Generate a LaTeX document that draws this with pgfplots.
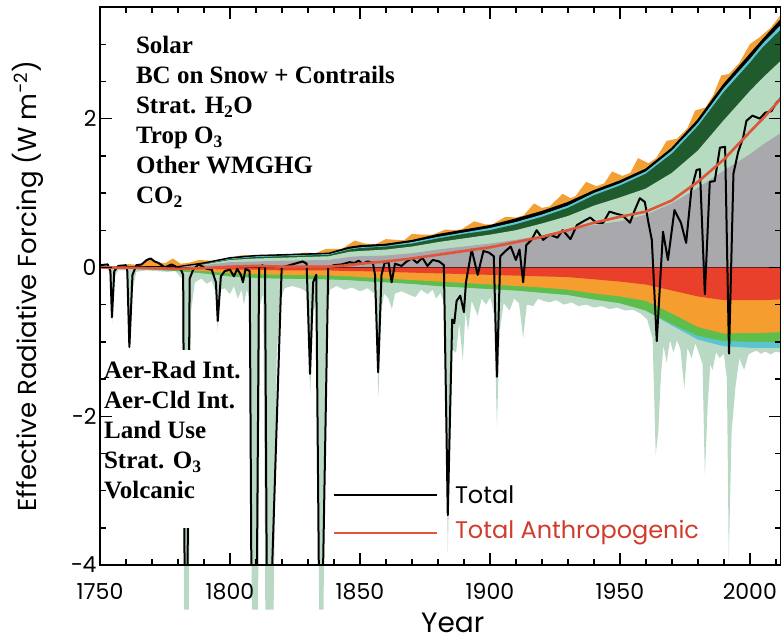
\documentclass[border=0pt]{standalone}
\usepackage{fontspec}
\setmainfont{Poppins}
\newfontfamily\lblfont{Liberation Serif}
\usepackage{pgfplots}
\usepackage{pgfplotstable}
\pgfplotsset{compat=1.18}

% layer colours
\definecolor{cCO2}{HTML}{A8A8AD}
\definecolor{cGHG}{HTML}{B6DBC0}
\definecolor{cO3}{HTML}{1F5B2D}
\definecolor{cH2O}{HTML}{5CC6D3}
\definecolor{cSolar}{HTML}{F2A033}
\definecolor{cARI}{HTML}{E8402A}
\definecolor{cACI}{HTML}{F59D2F}
\definecolor{cLU}{HTML}{5DBE4C}
\definecolor{cO3s}{HTML}{5BC4CF}
\definecolor{cVolc}{HTML}{BAD9C4}
\definecolor{cAnth}{HTML}{E0553A}
\definecolor{cAnthTxt}{HTML}{D13B2B}
\definecolor{cZero}{HTML}{6E1C12}

% cumulative layer boundaries (W m^-2): positive stack tops and negative stack bottoms
\pgfplotstableread{
year co2  ghg  o3   h2o  bc    ari   aci   lu    o3s   anth
1750 0.00 0.00 0.00 0.00 0.00  0.00  0.00  0.00  0.00  0.00
1770 0.00 0.00 0.01 0.01 0.01 -0.01 -0.02 -0.03 -0.03 -0.01
1780 0.01 0.01 0.01 0.01 0.01 -0.01 -0.03 -0.05 -0.05 -0.02
1790 0.03 0.04 0.05 0.05 0.06 -0.02 -0.05 -0.08 -0.08 -0.01
1800 0.07 0.10 0.11 0.12 0.13 -0.03 -0.08 -0.12 -0.12  0.01
1810 0.08 0.12 0.14 0.15 0.16 -0.03 -0.09 -0.14 -0.14  0.02
1820 0.09 0.13 0.15 0.16 0.17 -0.04 -0.10 -0.15 -0.15  0.01
1838 0.10 0.15 0.17 0.18 0.19 -0.04 -0.11 -0.16 -0.16  0.01
1846 0.14 0.21 0.24 0.25 0.27 -0.05 -0.12 -0.17 -0.17  0.03
1850 0.15 0.22 0.26 0.27 0.29 -0.05 -0.13 -0.18 -0.18  0.05
1860 0.16 0.24 0.28 0.29 0.31 -0.06 -0.15 -0.20 -0.20  0.08
1870 0.19 0.28 0.32 0.34 0.36 -0.07 -0.17 -0.22 -0.22  0.12
1880 0.24 0.34 0.39 0.41 0.44 -0.08 -0.19 -0.25 -0.25  0.17
1890 0.28 0.39 0.45 0.47 0.50 -0.09 -0.21 -0.27 -0.27  0.22
1900 0.32 0.44 0.50 0.53 0.56 -0.10 -0.23 -0.29 -0.29  0.27
1910 0.37 0.50 0.58 0.61 0.65 -0.11 -0.25 -0.31 -0.31  0.34
1920 0.43 0.59 0.68 0.71 0.75 -0.12 -0.27 -0.34 -0.34  0.41
1930 0.50 0.69 0.80 0.83 0.87 -0.13 -0.30 -0.37 -0.37  0.50
1940 0.57 0.83 0.97 1.00 1.03 -0.16 -0.35 -0.43 -0.43  0.60
1950 0.62 0.94 1.10 1.13 1.16 -0.19 -0.39 -0.48 -0.48  0.68
1960 0.71 1.06 1.26 1.29 1.32 -0.23 -0.45 -0.58 -0.58  0.75
1970 0.86 1.27 1.53 1.57 1.60 -0.31 -0.62 -0.76 -0.78  0.90
1980 1.07 1.57 1.90 1.94 1.98 -0.39 -0.80 -0.92 -0.97  1.15
1990 1.30 1.98 2.36 2.41 2.46 -0.44 -0.89 -0.99 -1.06  1.45
2000 1.52 2.37 2.75 2.80 2.86 -0.44 -0.88 -1.00 -1.08  1.82
2005 1.65 2.55 2.96 3.01 3.06 -0.44 -0.88 -1.00 -1.08  2.00
2012 1.81 2.78 3.20 3.26 3.33 -0.43 -0.87 -1.00 -1.08  2.27
}\layers

\pgfplotsset{
  erf frame/.style={
    width=681pt, height=558pt, scale only axis,
    xmin=1750, xmax=2012, ymin=-4, ymax=3.5,
  },
  layer/.style={fill=#1, draw=none},
}

\begin{document}
\begin{tikzpicture}
% volcanic forcing, drawn first and allowed to run past the frame
\begin{axis}[erf frame, hide axis, clip=false]
\addplot[layer=cVolc] coordinates {
(1750,0) (1753,-0.02) (1754,-0.06) (1754.7,-0.75) (1755.6,-0.12) (1757,-0.04)
(1760,-0.04) (1760.7,-0.2) (1761.4,-1.14) (1762.5,-0.3) (1764,-0.06) (1768,-0.04)
(1772,-0.05) (1776,-0.06) (1779,-0.05) (1781.5,-0.15) (1782.4,-4.6) (1784.2,-4.6)
(1785,-0.6) (1786.5,-0.2) (1789,-0.15) (1791,-0.22) (1793,-0.18) (1794.6,-0.35)
(1795.3,-0.85) (1796.3,-0.3) (1798,-0.28) (1800,-0.36) (1801.5,-0.25) (1803,-0.42)
(1804.5,-0.3) (1805.3,-0.5) (1806.5,-0.3) (1807.8,-0.45) (1808.4,-4.6) (1810.8,-4.6)
(1811.6,-0.5) (1812.8,-0.35) (1813.6,-4.6) (1816.8,-4.6) (1818,-1.2) (1819.3,-0.45)
(1821,-0.28) (1824,-0.25) (1827,-0.28) (1829.3,-0.32) (1830,-0.8) (1830.9,-1.7)
(1832,-0.6) (1833.5,-0.45) (1834.3,-4.6) (1836,-4.6) (1837,-0.7) (1838.5,-0.3)
(1841,-0.25) (1844,-0.3) (1847,-0.27) (1850,-0.32) (1853,-0.28) (1855.5,-0.35)
(1856.2,-0.6) (1857.1,-1.75) (1858.2,-0.6) (1859.3,-0.35) (1861,-0.42) (1862.3,-0.56)
(1863.5,-0.35) (1866,-0.32) (1868.5,-0.36) (1871.3,-0.4) (1873.5,-0.3) (1876,-0.36)
(1878,-0.3) (1879.3,-0.42) (1881,-0.34) (1882.6,-0.5) (1883.8,-3.85) (1884.8,-2.2)
(1885.6,-1.1) (1887,-1.15) (1888.2,-0.75) (1889.6,-1.25) (1890.6,-0.6) (1891.6,-0.85)
(1893,-0.45) (1895.3,-0.65) (1896.8,-0.42) (1898.5,-0.5) (1900.2,-0.4) (1901.7,-0.65)
(1902.7,-2.15) (1903.8,-0.85) (1905.3,-0.48) (1907.6,-0.58) (1909.3,-0.42) (1911.2,-0.48)
(1912.8,-0.95) (1914.2,-0.5) (1916.7,-0.52) (1918.5,-0.42) (1920.5,-0.45) (1923,-0.47)
(1925.5,-0.44) (1928.5,-0.5) (1931.5,-0.47) (1934,-0.52) (1937,-0.5) (1940,-0.54)
(1943,-0.52) (1946,-0.56) (1949,-0.54) (1952,-0.58) (1955,-0.57) (1958,-0.62)
(1960.5,-0.7) (1962.6,-0.95) (1963.8,-2.52) (1964.8,-2.2) (1965.8,-1.45) (1966.8,-1.05)
(1968,-1.28) (1969.3,-0.98) (1970.6,-1.14) (1972,-0.98) (1973.3,-1.1) (1974.8,-1.63)
(1976,-1.08) (1977.6,-1.22) (1979,-1.02) (1980.5,-1.16) (1981.8,-1.3) (1982.7,-2.8)
(1983.8,-1.85) (1984.8,-1.3) (1985.7,-1.38) (1987,-1.14) (1988.4,-1.22) (1990,-1.16)
(1991.2,-1.5) (1991.9,-3.93) (1993,-2.2) (1994.5,-1.6) (1996,-1.22) (1997.8,-1.38)
(1999.5,-1.17) (2001,-1.14) (2002.6,-1.12) (2004.3,-1.16) (2006,-1.13) (2008,-1.17)
(2010,-1.13) (2012,-1.15)
} \closedcycle;
\end{axis}

\begin{axis}[erf frame,
  axis on top,
  tick align=inside,
  xtick={1750,1800,...,2050}, xticklabels={1750,1800,1850,1900,1950,2000,2050},
  minor x tick num=4,
  ytick={-4,-2,0,2,4}, yticklabels={−4,−2,0,2,4},
  minor y tick num=3,
  major tick length=12pt, minor tick length=6pt,
  tick style={black, line width=1.4pt},
  axis line style={line width=1.6pt},
  tick label style={font=\fontsize{22}{22}\selectfont},
  xticklabel style={yshift=-15pt},
  xlabel={Year},
  xlabel style={font=\fontsize{28}{28}\selectfont, at={(axis description cs:0.518,-0.121)}, anchor=base},
  ylabel={Effective Radiative Forcing (W m\textsuperscript{−2})},
  ylabel style={font=\fontsize{26}{26}\selectfont, at={(axis description cs:-0.106,0.5)}, anchor=center},
]
% positive forcings, each filled down to zero, from the outermost layer inwards
\addplot[layer=cSolar] coordinates {
(1750,0.00) (1755,0.00) (1761,0.045) (1766,0.03) (1769,0.12) (1772,0.07) (1775,0.055)
(1778,0.12) (1781,0.05) (1784,0.06) (1788,0.10) (1793,0.09) (1798,0.12) (1805,0.165)
(1810,0.16) (1816,0.165) (1823,0.175) (1829,0.20) (1833,0.19) (1837,0.25) (1843,0.25)
(1848,0.36) (1852,0.32) (1856,0.31) (1860,0.38) (1864,0.37) (1867,0.365) (1870,0.45)
(1874,0.44) (1878,0.44) (1883,0.51) (1886,0.50) (1889,0.51) (1894,0.62) (1898,0.58)
(1901,0.58) (1906,0.68) (1910,0.67) (1913,0.70) (1917,0.86) (1920,0.80) (1923,0.82)
(1928,0.99) (1931,0.93) (1933,0.96) (1937,1.15) (1941,1.09) (1944,1.13) (1947,1.29)
(1951,1.23) (1954,1.27) (1957,1.47) (1961,1.40) (1964,1.47) (1968,1.70) (1972,1.73)
(1976,1.87) (1979,2.11) (1983,2.15) (1986,2.32) (1989,2.58) (1992,2.60) (1996,2.75)
(2000,3.00) (2004,3.10) (2008,3.22) (2012,3.40)
} \closedcycle;
\addplot[layer=black] table[x=year, y=bc] {\layers} \closedcycle;
\addplot[layer=cH2O] table[x=year, y=h2o] {\layers} \closedcycle;
\addplot[layer=cO3] table[x=year, y=o3] {\layers} \closedcycle;
\addplot[layer=cGHG] table[x=year, y=ghg] {\layers} \closedcycle;
\addplot[layer=cCO2] table[x=year, y=co2] {\layers} \closedcycle;
\addplot[black, line width=1.3pt] table[x=year, y=bc] {\layers};
% negative anthropogenic forcings
\addplot[layer=cO3s] table[x=year, y=o3s] {\layers} \closedcycle;
\addplot[layer=cLU] table[x=year, y=lu] {\layers} \closedcycle;
\addplot[layer=cACI] table[x=year, y=aci] {\layers} \closedcycle;
\addplot[layer=cARI] table[x=year, y=ari] {\layers} \closedcycle;
\addplot[cZero, line width=1pt] coordinates {(1750,0) (2012,0)};
% total forcing
\addplot[black, line width=2pt, line join=round] coordinates {
(1750,0.03) (1753,0.04) (1754,-0.05) (1754.6,-0.67) (1755.5,-0.05) (1757,0.02)
(1760,0.03) (1760.5,-0.05) (1761.3,-1.07) (1762.5,-0.1) (1764,0.03) (1766,0.04)
(1768,0.10) (1769.5,0.12) (1771,0.08) (1772.5,0.06) (1775,0.0) (1777.5,0.04)
(1781,-0.02) (1782,-0.1) (1782.6,-4.5) (1783.6,-4.5) (1784.5,-0.15) (1786,-0.02)
(1788,0.04) (1791,-0.02) (1793,-0.03) (1794.6,-0.2) (1795.3,-0.72) (1796.5,-0.12)
(1798,-0.05) (1800,-0.03) (1801.5,-0.12) (1802.8,-0.02) (1804.2,-0.1) (1805,-0.2)
(1806,-0.02) (1807.6,-0.05) (1808.3,-4.5) (1810.3,-4.5) (1811.2,0.0) (1812.5,0.03)
(1813.5,0.0) (1814.2,-4.5) (1815.8,-4.5) (1819.9,0.0) (1822,0.02) (1825,0.05)
(1828,0.08) (1829.5,0.05) (1830.8,-1.43) (1832,-0.2) (1833.2,-0.1) (1834.3,-4.5)
(1835.6,-4.5) (1837.8,0.0) (1840,0.03) (1843,0.04) (1846,0.07) (1848,0.06)
(1849.5,0.09) (1851,0.05) (1853,0.08) (1855,0.06) (1855.8,-0.1) (1857,-1.41)
(1858.3,-0.1) (1859.5,0.06) (1861,0.07) (1862.2,-0.2) (1863.5,0.05) (1866,0.02)
(1868,0.08) (1870,0.12) (1872,0.06) (1874,0.13) (1876,0.02) (1878,0.10)
(1880.5,0.08) (1882.3,0.03) (1883.8,-3.33) (1885.5,-0.7) (1886.3,-0.75) (1887.2,-0.45)
(1888.6,-0.38) (1890,-0.6) (1890.8,-0.2) (1893,0.24) (1895.3,-0.1) (1897.5,0.22)
(1899.6,0.2) (1901.5,0.15) (1902.7,-1.47) (1904,0.15) (1906,0.22) (1908,0.28)
(1910,0.1) (1911.4,0.24) (1912.8,-0.2) (1914,0.3) (1916,0.37) (1918,0.5)
(1920.5,0.37) (1923,0.44) (1926,0.4) (1928,0.5) (1931,0.38) (1933.5,0.57)
(1936,0.62) (1938.6,0.67) (1941,0.6) (1943.6,0.6) (1946,0.75) (1948.7,0.72)
(1951,0.7) (1953.9,0.6) (1955.5,0.75) (1957.7,0.93) (1959.6,0.88) (1961,0.6)
(1962.3,0.37) (1964.2,-0.99) (1966.6,0.48) (1968.5,0.1) (1971,0.77) (1973.5,0.6)
(1975.5,0.33) (1977.5,1.04) (1979.5,1.31) (1980.8,1.32) (1982.7,-0.36) (1984.6,1.15)
(1986.5,1.16) (1988.5,1.61) (1990.5,1.62) (1992,-1.16) (1993.7,1.26) (1995.5,1.55)
(1997.4,1.74) (1998.7,1.97) (2001,2.04) (2003.8,2.0) (2006,2.08) (2008.3,2.1)
(2010,2.2) (2012,2.28)
};
% total anthropogenic forcing
\addplot[cAnth, line width=2.6pt, line join=round] table[x=year, y=anth] {\layers};

% component names
\node[anchor=north west, align=left, inner sep=0pt,
      font=\lblfont\bfseries\fontsize{25}{30}\selectfont]
  at (axis cs:1763.8,3.11)
  {Solar\\BC on Snow + Contrails\\Strat. H\textsubscript{2}O\\Trop O\textsubscript{3}\\Other WMGHG\\CO\textsubscript{2}};
\fill[white] (axis cs:1750.6,-1.11) rectangle (axis cs:1807,-3.50);
\node[anchor=north west, align=left, inner sep=0pt,
      font=\lblfont\bfseries\fontsize{25}{30}\selectfont]
  at (axis cs:1751.5,-1.26)
  {Aer-Rad Int.\\Aer-Cld Int.\\Land Use\\Strat. O\textsubscript{3}\\Volcanic};

% legend
\draw[black, line width=1.5pt] (axis cs:1840,-3.06) -- (axis cs:1879.6,-3.06);
\node[anchor=west, inner sep=0pt, font=\fontsize{24}{24}\selectfont] at (axis cs:1886.5,-3.06) {Total};
\draw[cAnth, line width=1.5pt] (axis cs:1840,-3.57) -- (axis cs:1879.6,-3.57);
\node[anchor=west, inner sep=0pt, text=cAnthTxt, font=\fontsize{24}{24}\selectfont] at (axis cs:1886.5,-3.57) {Total Anthropogenic};
\end{axis}
\pgfresetboundingbox
\useasboundingbox (-100pt,-78pt) rectangle (681pt,565pt);
\end{tikzpicture}
\end{document}
